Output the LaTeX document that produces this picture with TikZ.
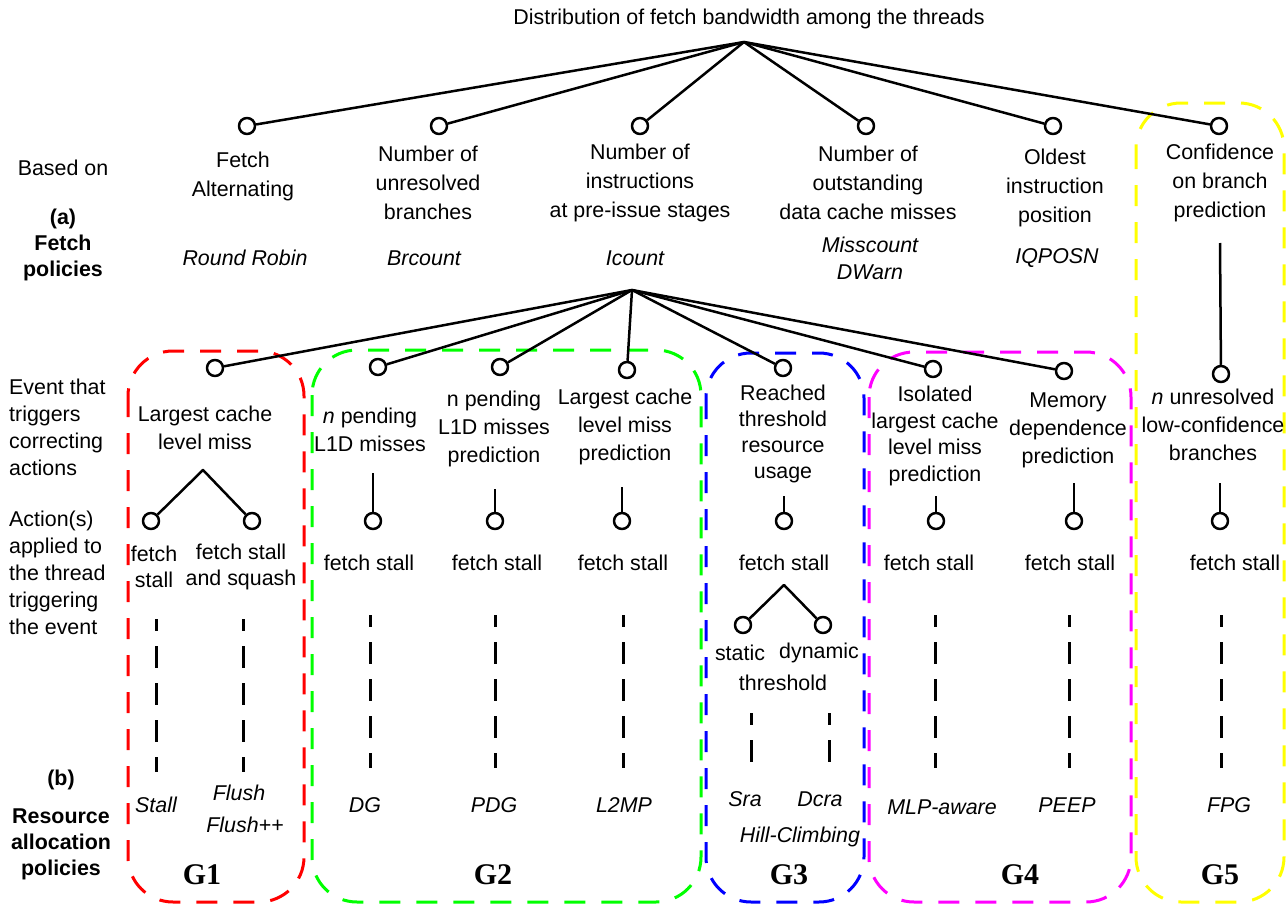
\documentclass[tikz,border=0pt]{standalone}
\usepackage{fontspec}
\setmainfont{Liberation Sans}
\newfontfamily\grpfont{Liberation Serif}
\definecolor{gred}{RGB}{255,0,0}
\definecolor{ggreen}{RGB}{0,255,0}
\definecolor{gblue}{RGB}{0,0,255}
\definecolor{gmagenta}{RGB}{255,0,255}
\definecolor{gyellow}{RGB}{255,255,0}
\tikzset{
  dot/.style={circle, draw, line width=2.5pt, fill=white, minimum size=16pt, inner sep=0pt},
  txt/.style={align=center, inner sep=2pt, font=\fontsize{21.4}{28}\selectfont},
  crit/.style={txt, font=\fontsize{21.4}{29}\selectfont},
  pol/.style={txt, font=\fontsize{21.4}{27}\selectfont\itshape},
  side/.style={align=left, inner sep=2pt, font=\fontsize{21.4}{27}\selectfont},
  heading/.style={align=center, inner sep=2pt, font=\fontsize{21.4}{26}\selectfont\bfseries},
  grp/.style={line width=3pt, dash pattern=on 21pt off 16pt, rounded corners=45pt},
  glabel/.style={font=\grpfont\bfseries\fontsize{30}{30}\selectfont},
  link/.style={line width=2.5pt},
  pend/.style={line width=3pt, dash pattern=on 22pt off 15pt, dash phase=10pt},
}
\begin{document}
\begin{tikzpicture}[x=1pt, y=-1pt, line join=round]
\useasboundingbox (0,0) rectangle (1286,905);

% policy groups
\draw[grp, gred] (128,351) rectangle (304,902);
\draw[grp, ggreen] (312,350) rectangle (701,902);
\draw[grp, gblue] (706,353) rectangle (864,902);
\draw[grp, gmagenta] (869,352) rectangle (1131,902);
\draw[grp, gyellow] (1136,103) rectangle (1284,902);

% row titles
\node[txt] (based) at (63,168) {Based on};
\node[heading] (fpol) at (63,245) {(a)\\Fetch\\policies};
\node[side, anchor=west] (event) at (7,427) {Event that\\triggers\\correcting\\actions};
\node[side, anchor=west] (action) at (7,573) {Action(s)\\applied to\\the thread\\triggering\\the event};
\node[heading] (b) at (61,780) {(b)};
\node[heading] (rpol) at (61,844) {Resource\\allocation\\policies};

% fetch policies
\node[txt] (title) at (749,19) {Distribution of fetch bandwidth among the threads};
\coordinate (dist) at (744,42);
\foreach \n/\x in {fa/247, br/439, ic/640, mc/866, iq/1053, cb/1219}{
  \node[dot] (\n) at (\x,126) {};
  \draw[link] (dist) -- (\n);
}
\node[crit] (fatxt) at (243,176) {Fetch\\Alternating};
\node[crit] (brtxt) at (428,183) {Number of\\unresolved\\branches};
\node[crit] (ictxt) at (640,183) {Number of\\instructions\\at pre-issue stages};
\node[crit] (mctxt) at (868,183) {Number of\\outstanding\\data cache misses};
\node[crit] (iqtxt) at (1055,188) {Oldest\\instruction\\position};
\node[crit] (cbtxt) at (1220,183) {Confidence\\on branch\\prediction};

\node[pol] (rr) at (245,258) {Round Robin};
\node[pol] (brc) at (424,258) {Brcount};
\node[pol] (icnt) at (635,258) {Icount};
\node[pol] (miss) at (870,258) {Misscount\\DWarn};
\node[pol] (iqp) at (1057,258) {IQPOSN};

% triggering events
\coordinate (icroot) at (632,290);
\coordinate (cbstem) at (1220,243);
\foreach \n/\x/\y in {e1/215/368, e2a/378/367, e2b/500/367, e2c/627/370, e3/783/368, e4a/933/369, e4b/1064/371}{
  \node[dot] (\n) at (\x,\y) {};
  \draw[link] (icroot) -- (\n);
}
\node[dot] (e5) at (1221,374) {};
\draw[link] (cbstem) -- (e5);

\node[txt] (e1txt) at (205,428) {Largest cache\\level miss};
\node[txt] (e2atxt) at (370,430) {\textit{n} pending\\L1D misses};
\node[txt] (e2btxt) at (494,429) {n pending\\L1D misses\\prediction};
\node[txt] (e2ctxt) at (625,427) {Largest cache\\level miss\\prediction};
\node[txt, font=\fontsize{21.4}{26}\selectfont] (e3txt) at (783,434) {Reached\\threshold\\resource\\usage};
\node[txt, font=\fontsize{21.4}{26.5}\selectfont] (e4atxt) at (935,436) {Isolated\\largest cache\\level miss\\prediction};
\node[txt] (e4btxt) at (1068,430) {Memory\\dependence\\prediction};
\node[txt] (e5txt) at (1213,425) {\textit{n} unresolved\\low-confidence\\branches};

% actions
\coordinate (a1) at (203,470);
\node[dot] (s1) at (151,521) {};
\node[dot] (q1) at (252,521) {};
\draw[link] (s1) -- (a1) -- (q1);
\node[txt, font=\fontsize{21.4}{26}\selectfont] (s1txt) at (154,567) {fetch\\stall};
\node[txt, font=\fontsize{21.4}{26}\selectfont] (q1txt) at (241,567) {fetch stall\\and squash};

\foreach \n/\x/\y in {2a/373/473, 2b/495/489, 2c/622/487, 3/784/496, 4a/936/496, 4b/1074/483, 5/1220/483}{
  \coordinate (t\n) at (\x,\y);
  \node[dot] (f\n) at (\x,521) {};
  \draw[link] (t\n) -- (f\n);
}
\foreach \n/\x in {2a/369, 2b/497, 2c/623, 3/784, 4a/929, 4b/1070, 5/1235}
  \node[txt] (fs\n) at (\x,563) {fetch stall};

\coordinate (a3) at (784,585);
\node[dot] (st) at (743,625) {};
\node[dot] (dy) at (823,625) {};
\draw[link] (st) -- (a3) -- (dy);
\node[txt] (sttxt) at (740,653) {static};
\node[txt] (dytxt) at (819,653) {dynamic};
\node[txt] (thtxt) at (783,683) {threshold};

% resource allocation policies
\foreach \n/\x/\a/\b in {1a/156/619/772, 1b/243/619/772, 2a/370/615/768, 2b/495/615/768, 2c/623/615/768, 3a/751/713/774, 3b/829/713/774, 4a/935/615/768, 4b/1069/615/768, 5/1221/615/768}{
  \coordinate (pt\n) at (\x,\a);
  \coordinate (pb\n) at (\x,\b);
  \draw[pend] (pt\n) -- (pb\n);
}
\node[pol] (stall) at (156,805) {Stall};
\node[pol] (flush) at (239,793) {Flush};
\node[pol] (flushpp) at (245,825) {Flush++};
\node[pol] (dg) at (365,805) {DG};
\node[pol] (pdg) at (494,805) {PDG};
\node[pol] (ltmp) at (624,805) {L2MP};
\node[pol] (sra) at (745,799) {Sra};
\node[pol] (dcra) at (820,799) {Dcra};
\node[pol] (hill) at (800,837) {Hill-Climbing};
\node[pol] (mlp) at (942,807) {MLP-aware};
\node[pol] (peep) at (1067,805) {PEEP};
\node[pol] (fpg) at (1229,805) {FPG};

\node[glabel] (g1) at (202,875) {G1};
\node[glabel] (g2) at (493,875) {G2};
\node[glabel] (g3) at (789,875) {G3};
\node[glabel] (g4) at (1020,875) {G4};
\node[glabel] (g5) at (1220,875) {G5};
\end{tikzpicture}
\end{document}
